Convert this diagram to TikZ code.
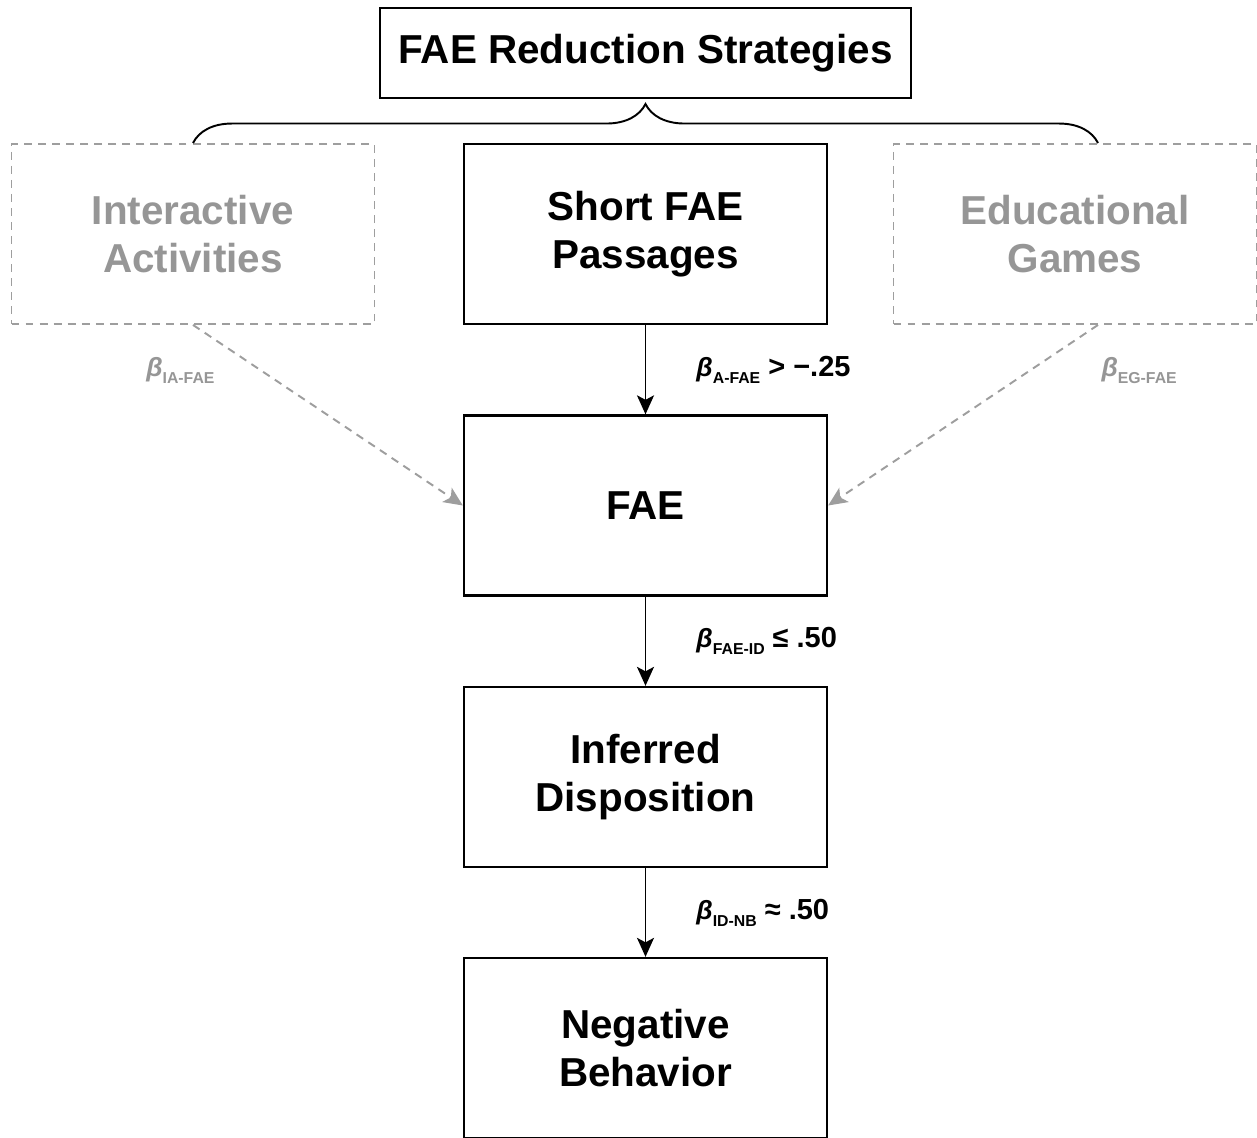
\documentclass[tikz,border=0pt]{standalone}
\usepackage{fontspec}
\setmainfont{Liberation Sans}
\usetikzlibrary{arrows.meta, positioning, decorations.pathreplacing}
\definecolor{ghost}{RGB}{150,150,150}
\definecolor{ghostline}{RGB}{158,158,158}
\newcommand{\betalab}[2]{{\fontsize{15}{17}\selectfont\textit{β}}\raisebox{-0.45ex}{\fontsize{9}{10}\selectfont #1}#2}
\tikzset{
  box/.style={draw, line width=1.3pt, minimum width=7.26cm, minimum height=3.6cm, align=center,
    font=\fontsize{23}{27.5}\selectfont\bfseries},
  ghostbox/.style={box, draw=ghostline, text=ghost, line width=1.1pt, dash pattern=on 4.5pt off 3.5pt},
  arr/.style={-{Stealth[length=3.8mm, width=3.4mm, inset=0.9mm]}, line width=1.1pt},
  darr/.style={arr, draw=ghostline, dash pattern=on 4.5pt off 3.5pt},
  lab/.style={inner sep=0pt, font=\fontsize{16.5}{19}\selectfont\bfseries},
}
\begin{document}
\begin{tikzpicture}
  \useasboundingbox (0,0) rectangle (25.14,-22.76);
  % top
  \node[box, minimum width=10.62cm, minimum height=1.8cm, font=\fontsize{23}{27}\selectfont\bfseries]
    (title) at (12.91,-1.06) {FAE Reduction Strategies};
  \node[ghostbox] (ia) at (3.86,-4.68) {Interactive\\Activities};
  \node[box] (sfp) at (12.91,-4.68) {Short FAE\\Passages};
  \node[ghostbox] (eg) at (21.5,-4.68) {Educational\\Games};
  \coordinate (egtop) at ([xshift=0.46cm]eg.north);
  \coordinate (egbot) at ([xshift=0.46cm]eg.south);
  \draw[line width=1.1pt, decorate, decoration={brace, amplitude=0.78cm}] (ia.north) -- (egtop);
  % chain
  \node[box] (fae) at (12.91,-10.11) {FAE};
  \node[box] (id) at (12.91,-15.54) {Inferred\\Disposition};
  \node[box] (nb) at (12.91,-20.96) {Negative\\Behavior};
  \draw[arr] (sfp) -- node[lab, right=1cm] {\betalab{A-FAE}{ > −.25}} (fae);
  \draw[arr] (fae) -- node[lab, right=1cm] {\betalab{FAE-ID}{ ≤ .50}} (id);
  \draw[arr] (id) -- node[lab, right=1cm] {\betalab{ID-NB}{ ≈ .50}} (nb);
  \draw[darr] (ia.south) -- node[lab, text=ghost, pos=0.25, left=0.9cm] {\betalab{IA-FAE}{}} (fae.west);
  \draw[darr] (egbot) -- node[lab, text=ghost, pos=0.25, right=1.4cm] {\betalab{EG-FAE}{}} (fae.east);
\end{tikzpicture}
\end{document}
